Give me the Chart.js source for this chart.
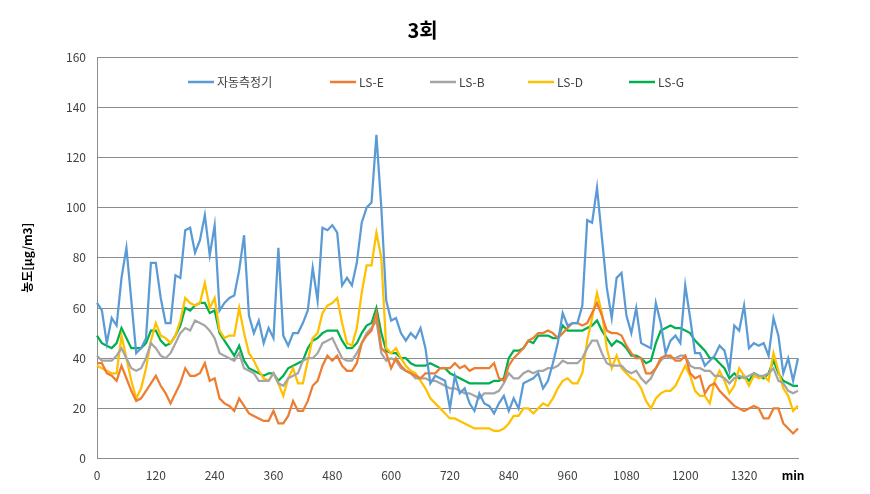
<!DOCTYPE html>
<html>
<head>
<meta charset="utf-8">
<script src="https://cdn.jsdelivr.net/npm/chart.js@4"></script>
<style>
  html, body { margin: 0; padding: 0; background: #fff; }
  #wrap { width: 870px; height: 494px; }
</style>
</head>
<body>
<div id="wrap"><canvas id="plot1" width="870" height="494"></canvas></div>
<script>
// minutes, one sample every 10 min
var minutes = Array.from({ length: 144 }, (_, i) => i * 10);
var tickMinutes = [0, 120, 240, 360, 480, 600, 720, 840, 960, 1080, 1200, 1320];
var unitLabel = 'min';
var unitIndex = 142;

var auto = [62,59,46,56,53,72,84,63,42,44, 48,78,78,64,54,54,73,72,91,92,
  82,87,97,81,93,59,62,64,65,75, 89,57,50,55,46,52,48,84,49,45,
  50,50,54,59,76,63,92,91,93,90, 69,72,69,78,94,100,102,129,100,63,
  55,56,50,47,50,48,52,44,30,33, 32,31,20,33,26,28,22,19,26,22,
  21,18,22,25,19,24,20,30,31,32, 34,28,31,38,46,58,53,54,54,61,
  95,94,108,88,68,56,72,74,57,50, 60,46,45,44,62,54,42,47,49,46,
  69,56,42,42,37,39,41,45,43,35, 53,51,61,44,46,45,46,41,56,49,
  34,40,31,40];
var lsE = [38,38,34,33,31,37,32,27,23,24, 27,30,33,29,26,22,26,30,36,33,
  33,34,38,31,32,24,22,21,19,24, 21,18,17,16,15,15,19,14,14,17,
  23,19,19,23,29,31,37,41,39,41, 37,35,35,38,46,49,51,58,44,42,
  36,40,37,35,34,33,32,34,34,34, 36,36,36,38,36,37,35,36,36,36,
  36,38,32,31,37,40,42,44,47,48, 50,50,51,50,48,50,52,54,54,53,
  54,58,62,57,51,50,50,49,45,42, 40,40,34,34,36,40,41,41,39,39,
  41,34,32,33,26,29,30,27,25,23, 21,20,19,20,21,20,16,16,20,20,
  14,12,10,12];
var lsB = [41,39,39,39,41,44,40,36,35,36, 40,46,44,41,40,42,46,50,52,51,
  55,54,53,51,48,42,41,40,39,42, 36,35,34,31,31,31,34,30,29,32,
  33,34,39,40,40,42,46,47,48,44, 40,39,39,42,46,50,52,55,42,39,
  40,39,36,35,34,32,32,32,31,31, 30,29,28,28,27,26,26,25,24,26,
  26,26,27,30,34,32,32,34,35,34, 35,35,36,36,37,39,38,38,38,40,
  44,47,47,42,38,37,37,37,35,34, 35,32,30,32,36,39,41,40,40,41,
  41,37,36,36,35,35,33,33,32,30, 32,33,32,33,34,33,33,34,36,31,
  30,27,26,27];
var lsD = [37,36,35,34,34,49,40,31,24,28, 36,47,54,49,48,46,49,55,64,62,
  61,62,70,60,64,51,48,49,49,60, 50,42,39,35,32,31,34,30,25,32,
  36,30,30,39,48,50,58,61,62,64, 54,46,45,52,66,77,77,90,80,44,
  42,44,40,37,35,34,31,28,24,22, 20,18,16,16,15,14,13,12,12,12,
  12,11,11,12,14,17,17,20,20,18, 20,22,21,24,28,31,32,30,30,34,
  47,56,66,58,44,36,41,36,34,32, 31,28,23,20,24,26,27,27,29,33,
  37,33,27,25,25,22,31,35,31,26, 29,36,33,29,33,32,33,31,42,35,
  28,25,19,21];
var lsG = [49,46,45,44,46,52,48,44,44,44, 46,51,51,47,45,46,49,53,60,59,
  61,62,62,58,59,50,47,44,41,45, 39,36,35,34,33,34,34,31,33,36,
  37,38,39,44,47,48,50,51,51,51, 47,44,44,46,50,53,54,60,50,43,
  42,42,40,40,38,37,37,37,38,37, 36,36,34,33,32,31,30,30,30,30,
  30,31,31,32,40,43,43,44,47,46, 49,49,49,48,48,53,51,51,51,51,
  52,53,55,51,48,45,47,46,44,41, 41,40,38,39,46,51,52,53,52,52,
  51,50,47,45,43,40,40,38,36,32, 34,32,33,31,34,33,32,34,39,34,
  31,30,29,29];

var seriesNames = ['자동측정기', 'LS-E', 'LS-B', 'LS-D', 'LS-G'];
var seriesData = [auto, lsE, lsB, lsD, lsG];
var seriesColors = ['#5B9BD5', '#ED7D31', '#A5A5A5', '#FFC000', '#00B050'];

var fontFamily = '"Noto Sans CJK KR", "Noto Sans", sans-serif';

// legend drawn inside the plot, like the spreadsheet chart
var legendSlots = [188, 330, 430, 528, 629];
var innerLegend = {
  id: 'innerLegend',
  afterDraw(chart) {
    var ctx = chart.ctx;
    var y = 82;
    ctx.save();
    ctx.font = '12px ' + fontFamily;
    ctx.textBaseline = 'middle';
    chart.data.datasets.forEach((ds, k) => {
      var x = legendSlots[k];
      ctx.strokeStyle = ds.borderColor;
      ctx.lineWidth = 2.5;
      ctx.beginPath();
      ctx.moveTo(x, y);
      ctx.lineTo(x + 26, y);
      ctx.stroke();
      ctx.fillStyle = '#404040';
      ctx.fillText(ds.label, x + 29, y);
    });
    ctx.restore();
  },
};

var chart = new Chart(document.getElementById('plot1'), {
  type: 'line',
  data: {
    labels: minutes,
    datasets: seriesNames.map((name, k) => {
      return {
        label: name,
        data: seriesData[k],
        borderColor: seriesColors[k],
        backgroundColor: seriesColors[k],
        borderWidth: 2.25,
        pointRadius: 0,
        tension: 0,
      };
    }),
  },
  options: {
    responsive: false,
    animation: false,
    layout: { padding: { left: 0, right: 25, top: 0, bottom: 1 } },
    plugins: {
      legend: { display: false },
      tooltip: { enabled: false },
      title: {
        display: true,
        text: '3회',
        color: '#000',
        font: { family: fontFamily, size: 20, weight: 'bold' },
        padding: { top: 18, bottom: 15 },
      },
    },
    scales: {
      x: {
        type: 'category',
        offset: false,
        grid: { display: false, drawTicks: false },
        border: { display: true, color: '#8c8c8c', width: 1 },
        ticks: {
          autoSkip: false,
          maxRotation: 0,
          minRotation: 0,
          padding: 10,
          color: (c) => (c.index === unitIndex ? '#000' : '#404040'),
          font: (c) => ({
            family: fontFamily,
            size: 12,
            weight: c.index === unitIndex ? 'bold' : 'normal',
          }),
          callback: function (value, index) {
            if (index === unitIndex) return unitLabel;
            var m = minutes[index];
            return tickMinutes.indexOf(m) >= 0 ? String(m) : '';
          },
        },
      },
      y: {
        type: 'linear',
        min: 0,
        max: 160,
        afterFit: (scale) => {
          scale.width = 97;
        },
        grid: { color: '#8c8c8c', lineWidth: 1, drawTicks: false },
        border: { display: true, color: '#8c8c8c', width: 1 },
        ticks: {
          stepSize: 20,
          padding: 11,
          color: '#404040',
          font: { family: fontFamily, size: 12 },
        },
        title: {
          display: true,
          text: '농도[μg/m3]',
          color: '#000',
          font: { family: fontFamily, size: 12, weight: 'bold' },
          padding: { top: 20, bottom: 0 },
        },
      },
      // empty right-hand spacer so the title centres like the original
      yPad: {
        type: 'linear',
        position: 'right',
        display: true,
        min: 0,
        max: 160,
        afterFit: (scale) => {
          scale.width = 47;
        },
        grid: { display: false, drawOnChartArea: false, drawTicks: false },
        border: { display: false },
        ticks: { display: false },
      },
    },
  },
  plugins: [innerLegend],
});
</script>
</body>
</html>
